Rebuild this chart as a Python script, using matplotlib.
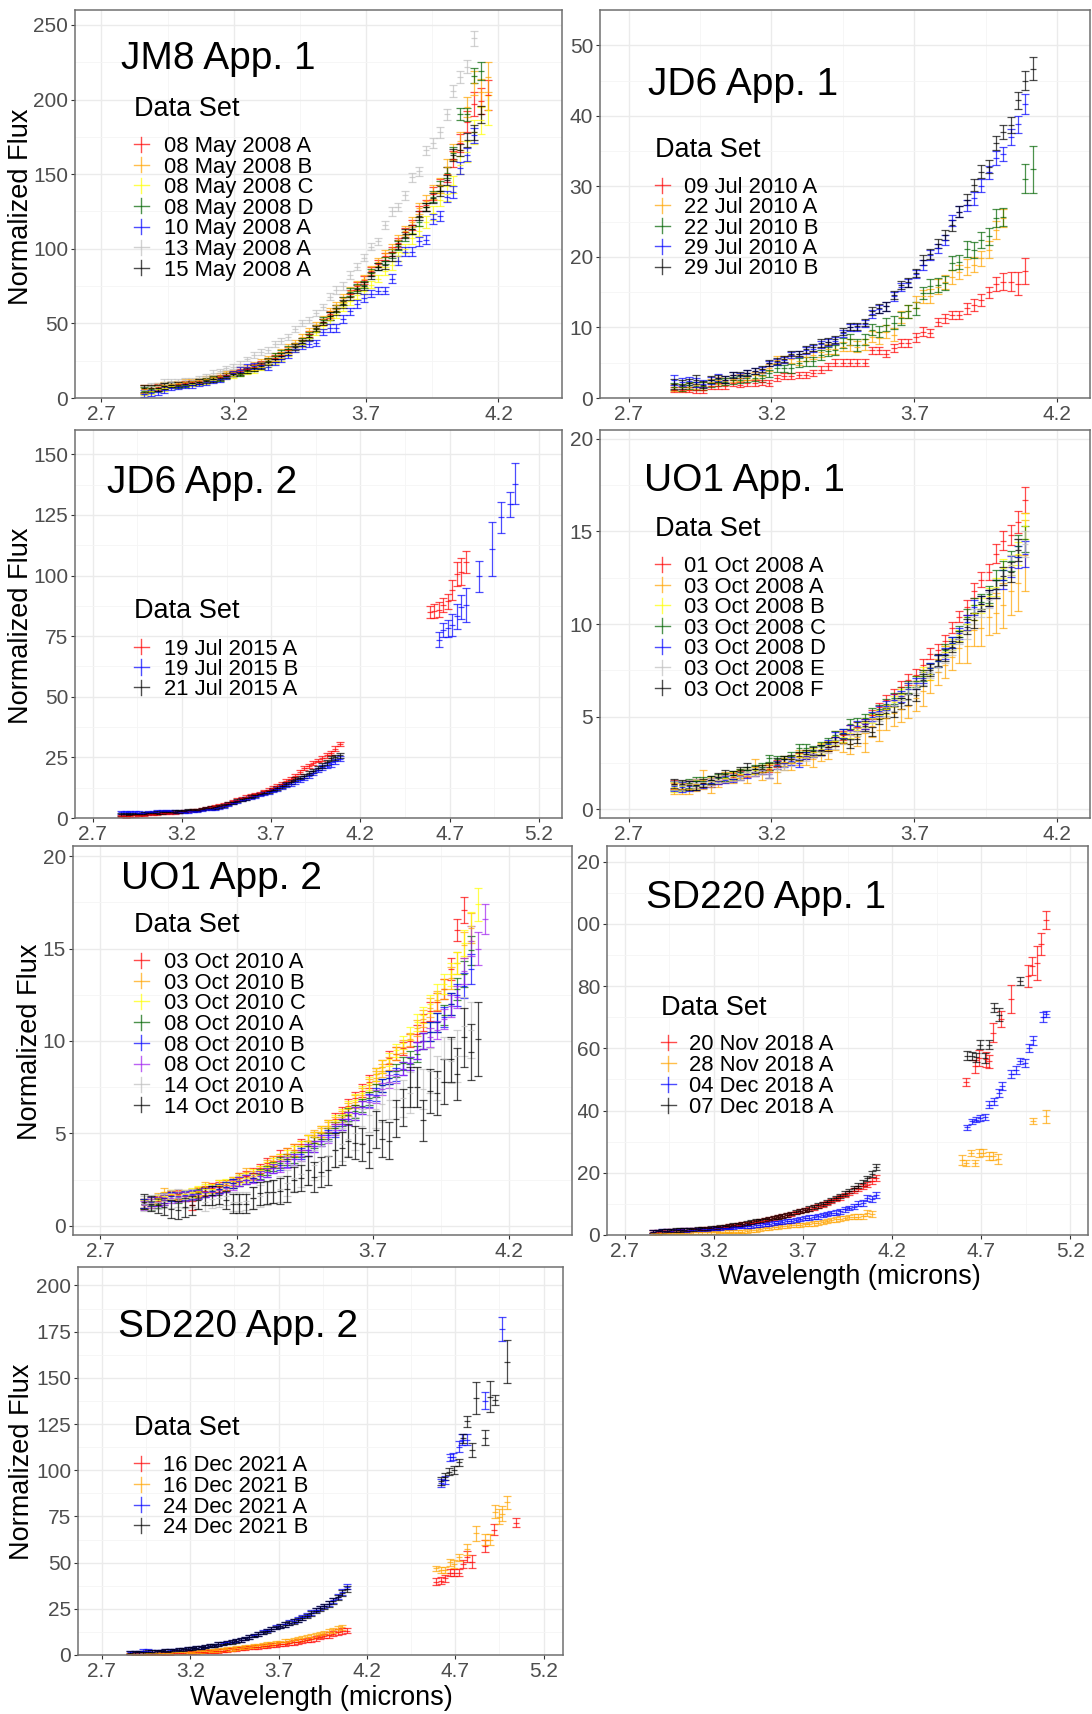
import numpy as np
import matplotlib.pyplot as plt
from matplotlib.patches import Rectangle

nan = np.nan
plt.rcParams['font.family'] = ['Liberation Sans', 'DejaVu Sans']

W, H = 1092, 1714  # output size in pixels

RED, ORANGE, YELLOW = '#FF0000', '#FFA500', '#FFFF00'
GREEN, BLUE, PURPLE = '#006400', '#0000FF', '#A020F0'
GREY, BLACK = '#BEBEBE', '#000000'

# channel wavelengths (microns) of the 2.9-4.1 micron spectra
GRID = [2.86, 2.885, 2.91, 2.935, 2.96, 2.985, 3.01, 3.035, 3.06, 3.085,
        3.11, 3.135, 3.16, 3.185, 3.21, 3.235, 3.26, 3.285, 3.31, 3.335,
        3.36, 3.385, 3.41, 3.435, 3.46, 3.485, 3.51, 3.535, 3.56, 3.585,
        3.61, 3.635, 3.66, 3.685, 3.71, 3.735, 3.76, 3.785, 3.81, 3.835,
        3.86, 3.885, 3.91, 3.935, 3.96, 3.985, 4.01, 4.035, 4.06, 4.085, 4.11]
# the 2008 JM8 spectra were binned a little coarser
JM8_GRID = [2.86, 2.886, 2.912, 2.938, 2.964, 2.99, 3.016, 3.042, 3.068, 3.094,
            3.12, 3.146, 3.172, 3.198, 3.224, 3.25, 3.276, 3.302, 3.328, 3.354,
            3.38, 3.406, 3.432, 3.458, 3.484, 3.51, 3.536, 3.562, 3.588, 3.614,
            3.64, 3.666, 3.692, 3.718, 3.744, 3.77, 3.796, 3.822, 3.848, 3.874,
            3.9, 3.926, 3.952, 3.978, 4.004, 4.03, 4.056, 4.082, 4.108, 4.134, 4.16]
# JD6 App. 1 and UO1 App. 1 channels
GRID_B = [2.86, 2.886, 2.911, 2.937, 2.962, 2.988, 3.014, 3.039, 3.065, 3.09,
          3.116, 3.142, 3.167, 3.193, 3.218, 3.244, 3.27, 3.295, 3.321, 3.346,
          3.372, 3.398, 3.423, 3.449, 3.474, 3.5, 3.526, 3.551, 3.577, 3.602,
          3.628, 3.654, 3.679, 3.705, 3.73, 3.756, 3.782, 3.807, 3.833, 3.858,
          3.884, 3.91, 3.935, 3.961, 3.986, 4.012, 4.038, 4.063, 4.089, 4.114]

# ---------------- JM8 App. 1 ----------------
JM8_LABELS = ['08 May 2008 A', '08 May 2008 B', '08 May 2008 C', '08 May 2008 D',
              '10 May 2008 A', '13 May 2008 A', '15 May 2008 A']
JM8_RED = [6, 6.5, 7.5, 8, 9, 9.5, 10, 10.5, 11.5, 12, 13, 14, 15.5, 16.5, 18, 19.5, 21, 23, 25, 27,
           29, 32, 35, 38, 43, 47, 51, 56, 60, 65, 70, 75, 79, 85, 90, 95, 98, 104, 111, 116,
           125, 129, 137, 142, 150, 160, 171, 185, 197, 199, 203]
JM8_ORANGE = [6, 7, 8, 9, 9.5, 10, 11, 11.5, 12, 13, 14, 15, 16.5, 17.5, 19, 20.5, 22, 24, 26, 28,
              31, 34, 37, 41, 45, 49, 53, 58, 62, 67, 72, 76, 80, 86, 91, 97, 100, 106, 112, 118,
              127, 132, 138, 143, 155, 165, 172, 195, 211, 205, 215]
JM8_YELLOW = [4.5, 5, 6, 7, 8, 8.5, 9, 9.5, 10.5, 11, 12, 13, 14, 15, 16, 17.5, 19, 21, 23, 25,
              27, 30, 33, 36, 40, 44, 48, 52, 56, 61, 65, 69, 72, 76, 80, 85, 89, 95, 100, 107,
              112, 118, 124, 133, 137, 143, 156, 165, 178, 186, 193]
JM8_GREEN = [5, 6, 7, 8, 9, 8, 9, 10, 11, 12, 13, 13, 15, 16, 16, 18, 20, 22, 25, 28,
             30, 33, 35, 38, 42, 47, 52, 55, 60, 65, 71, 74, 76, 84, 88, 92, 97, 102, 108, 113,
             118, 128, 135, 142, 151, 164, 190, 190, 216, 219]
JM8_BLUE = [3, 3.5, 4, 5.5, 7, 7.5, 8, 8.5, 9.5, 10.5, 11.5, 12.5, 14, 16.5, 19, 21, 21.5, 22, 21, 24,
            26, 29, 33, 35, 36, 37, 44, 47, 47, 53, 58, 63, 67, 70, 72, 72, 80, 92, 98, 98,
            105, 106, 120, 122, 135, 138, 154, 163, 176]
JM8_GREY = [5.5, 8, 8, 10.5, 11, 11.5, 12, 12, 13.5, 14.5, 17, 18, 20, 21, 23, 26, 29, 31, 32, 36,
            38, 41, 46, 50, 52, 57, 61, 68, 72.5, 75, 82.5, 88, 94, 101.5, 105, 116, 125, 128, 136, 148,
            152, 166, 171, 178, 190, 206, 215, 222, 241]
JM8_BLACK = [6.5, 7, 7, 8, 9, 9, 9.5, 10, 11, 11.5, 12.5, 13.5, 15, 16, 17, 18.5, 20, 21.5, 24, 26,
             28, 31, 34, 37, 41, 46, 51, 55, 58, 63, 68, 73, 75, 82, 88, 89, 95, 103, 110, 113,
             122, 128, 134, 139, 146, 163, 166, 173, 178, 190]
JM8_ERR = [2.5, 2, 2, 2, 1.5, 1.5, 1.5, 1.5, 1.5, 1.5, 1.5, 1.5, 1.5, 1.5, 1.5, 1.5, 2, 2, 2, 2,
           2, 2, 2, 2, 2, 2, 2, 2.5, 2.5, 2.5, 2.5, 2.5, 2.5, 2.5, 2.5, 2.5, 3, 3, 3, 3,
           3, 3, 3.5, 3.5, 3.5, 4, 4, 4.5, 5, 6]
JM8_ERR_BIG = [2.5, 2, 2, 2, 1.5, 1.5, 1.5, 1.5, 1.5, 1.5, 1.5, 1.5, 1.5, 1.5, 1.5, 1.5, 2, 2, 2, 2,
               2, 2, 2, 2, 2, 2, 2, 2.5, 2.5, 2.5, 2.5, 2.5, 2.5, 2.5, 2.5, 2.5, 3, 3, 3, 3.5,
               3.5, 4, 4.5, 4.5, 5, 5.5, 6, 7, 8, 9, 10]

# ---------------- JD6 App. 1 ----------------
JD6A_LABELS = ['09 Jul 2010 A', '22 Jul 2010 A', '22 Jul 2010 B', '29 Jul 2010 A', '29 Jul 2010 B']
JD6A_RED = [1.2, 1.2, 1.2, 1.1, 1.1, 1.7, 1.7, 1.7, 2.1, 1.9, 2.1, 2.1, 2.2, 2.1, 2.8, 3.1, 3.1, 3.3, 3.3, 3.5,
            4.0, 4.5, 5.0, 5.0, 5.0, 5.0, 5.0, 6.8, 6.8, 6.3, 7.1, 7.8, 7.8, 8.6, 9.4, 9.2, 10.8, 11.3, 11.8, 11.8,
            12.7, 13.2, 13.9, 15.0, 16.2, 16.5, 16.5, 16.2, 18.0]
JD6A_ORANGE = [1.5, 1.5, 1.6, 1.8, 1.7, 2.2, 2.5, 2.4, 2.7, 2.9, 3.0, 3.2, 3.6, 4.3, 5.4, 5.5, 5.5, 5.3, 5.8, 6.1,
               6.5, 6.9, 7.0, 7.3, 7.5, 7.3, 7.6, 8.7, 8.5, 9.4, 9.0, 11.5, 12.3, 13.6, 14.4, 14.4, 15.8, 16.5, 17.2, 17.9,
               18.6, 18.9, 19.8, 21.0, 23.8, 25.5]
JD6A_GREEN = [1.6, 1.5, 1.8, 1.7, 1.7, 2.1, 2.2, 2.3, 2.5, 2.6, 2.8, 2.9, 2.8, 3.5, 4.2, 4.2, 4.2, 5.0, 5.2, 5.2,
              6.1, 6.6, 6.8, 7.8, 8.3, 7.5, 8.3, 9.7, 9.4, 10.4, 10.7, 11.3, 12.3, 12.7, 14.9, 15.9, 16.0, 16.3, 19.1, 19.3,
              21.1, 21.0, 22.4, 22.9, 25.5, 25.7, nan, nan, 31.1, 32.4]
JD6A_BLUE = [2.5, 2.3, 2.4, 2.2, 2.0, 2.5, 2.9, 2.6, 3.3, 3.2, 3.5, 3.8, 4.0, 4.9, 5.1, 5.4, 6.1, 6.2, 6.8, 7.0,
             7.6, 7.9, 8.1, 9.2, 10.0, 10.0, 10.5, 11.9, 12.6, 13.0, 14.4, 15.7, 16.3, 17.6, 18.9, 20.3, 21.2, 22.4, 25.2, 26.4,
             27.3, 28.3, 30.1, 32.0, 34.0, 34.6, 37.0, 38.8, 41.7]
JD6A_BLACK = [2.0, 1.9, 2.1, 2.6, 1.9, 2.6, 2.8, 2.6, 3.3, 3.3, 3.5, 3.8, 4.1, 5.0, 5.2, 5.5, 6.3, 6.3, 6.9, 7.2,
              7.8, 8.0, 8.3, 9.4, 10.1, 10.2, 10.7, 12.3, 12.7, 13.0, 14.6, 16.0, 16.4, 17.7, 19.5, 20.4, 21.9, 23.1, 24.5, 26.4,
              28.1, 30.2, 32.1, 32.8, 36.1, 37.7, 38.7, 42.2, 45.0, 46.7]
JD6A_ERR = [0.7, 0.6, 0.6, 0.6, 0.5, 0.5, 0.5, 0.5, 0.4, 0.4, 0.4, 0.4, 0.4, 0.4, 0.4, 0.4, 0.4, 0.4, 0.5, 0.5,
            0.5, 0.5, 0.5, 0.5, 0.5, 0.5, 0.5, 0.6, 0.6, 0.6, 0.6, 0.6, 0.6, 0.6, 0.7, 0.7, 0.7, 0.7, 0.8, 0.8,
            0.8, 0.9, 0.9, 0.9, 1.0, 1.0, 1.1, 1.2, 1.4, 1.6]
JD6A_ERR_G = [0.5, 0.5, 0.5, 0.5, 0.5, 0.5, 0.5, 0.5, 0.5, 0.5, 0.5, 0.5, 0.5, 0.5, 0.5, 0.5, 0.6, 0.6, 0.6, 0.6,
              0.7, 0.7, 0.7, 0.7, 0.8, 0.8, 0.8, 0.8, 0.8, 0.9, 0.9, 0.9, 0.9, 0.9, 0.9, 1.0, 1.0, 1.0, 1.0, 1.0,
              1.1, 1.1, 1.1, 1.2, 1.3, 1.3, 1.5, 1.8, 2.1, 3.3]
JD6A_ERR_R = [0.4, 0.4, 0.4, 0.4, 0.4, 0.4, 0.4, 0.4, 0.4, 0.4, 0.4, 0.4, 0.4, 0.4, 0.4, 0.4, 0.4, 0.4, 0.4, 0.4,
              0.5, 0.5, 0.5, 0.5, 0.5, 0.5, 0.5, 0.5, 0.5, 0.5, 0.6, 0.6, 0.6, 0.6, 0.6, 0.6, 0.6, 0.6, 0.6, 0.6,
              0.8, 0.8, 0.8, 0.8, 1.0, 1.2, 1.3, 1.6, 1.8]

# ---------------- JD6 App. 2 ----------------
JD6B_LABELS = ['19 Jul 2015 A', '19 Jul 2015 B', '21 Jul 2015 A']
JD6B_RED = [0.8, 0.7, 0.9, 1.1, 1.3, 1.4, 1.6, 1.8, 1.9, 2.0, 2.1, 2.1, 2.3, 2.5, 2.8, 3.0, 3.2, 3.4, 3.8, 4.1,
            4.4, 4.8, 5.1, 5.5, 6.2, 6.9, 7.5, 8.2, 8.7, 9.2, 9.8, 10.3, 11.0, 11.7, 12.5, 13.3, 14.2, 15.1, 16.2, 17.4,
            19.0, 20.6, 21.6, 22.7, 23.7, 24.7, 25.8, 26.8, 28.5, 30.5]
JD6B_BLUE = [2.3, 2.3, 2.3, 2.3, 2.2, 2.1, 2.3, 2.5, 2.6, 2.7, 2.7, 2.7, 2.6, 2.5, 2.6, 2.7, 2.9, 3.0, 3.3, 3.7,
             3.9, 4.1, 4.4, 4.8, 5.5, 6.2, 6.9, 7.6, 8.0, 8.5, 9.0, 9.6, 10.1, 10.6, 11.2, 11.9, 12.7, 13.6, 14.1, 14.7,
             15.6, 16.5, 17.5, 18.5, 19.8, 21.0, 21.6, 22.2, 23.4, 24.5]
JD6B_BLACK = [1.5, 1.5, 1.6, 1.6, 1.7, 1.8, 2.0, 2.1, 2.2, 2.3, 2.4, 2.5, 2.6, 2.7, 3.0, 3.2, 3.3, 3.4, 3.8, 4.1,
              4.3, 4.5, 4.9, 5.2, 5.8, 6.5, 7.1, 7.8, 8.2, 8.7, 9.3, 9.9, 10.4, 11.0, 11.7, 12.4, 13.2, 14.0, 15.0, 16.0,
              16.7, 17.4, 18.5, 19.5, 20.5, 21.6, 23.0, 24.7, 25.0, 25.8]
JD6B_ERR = [0.5, 0.5, 0.5, 0.5, 0.5, 0.5, 0.5, 0.5, 0.5, 0.5, 0.5, 0.5, 0.5, 0.5, 0.5, 0.5, 0.5, 0.5, 0.5, 0.5,
            0.6, 0.6, 0.6, 0.6, 0.6, 0.6, 0.6, 0.6, 0.6, 0.6, 0.6, 0.6, 0.6, 0.6, 0.6, 0.8, 0.8, 0.8, 0.8, 0.8,
            0.8, 0.8, 0.8, 0.8, 0.8, 1.0, 1.0, 1.0, 1.0, 1.0]
# 4.6-5.1 micron points
JD6B_RED_MX = [4.59, 4.615, 4.64, 4.665, 4.69, 4.715, 4.74, 4.765, 4.79]
JD6B_RED_M = [84.9, 85.4, 85.9, 87.9, 89.3, 94.1, 100.7, 101.6, 105.4]
JD6B_RED_ME = [2.5, 3, 3, 3, 3, 4, 5, 5.5, 4.5]
JD6B_BLUE_MX = [4.64, 4.665, 4.69, 4.715, 4.74, 4.765, 4.79, 4.865, 4.94, 4.99, 5.04, 5.065]
JD6B_BLUE_M = [73.5, 77.6, 78.3, 79.7, 83.1, 86.9, 87.9, 99.6, 111.0, 124.0, 129.3, 137.8]
JD6B_BLUE_ME = [3, 3, 3.5, 4.5, 5, 5, 7, 6.5, 11, 6.3, 5, 8.5]

# ---------------- UO1 App. 1 ----------------
UO1A_LABELS = ['01 Oct 2008 A', '03 Oct 2008 A', '03 Oct 2008 B', '03 Oct 2008 C',
               '03 Oct 2008 D', '03 Oct 2008 E', '03 Oct 2008 F']
UO1A_RED = [1.35, 1.3, 1.35, 1.39, 1.42, 1.5, 1.57, 1.66, 1.75, 1.87, 1.93, 2.0, 2.1, 2.2, 2.47, 2.56, 2.7, 2.83, 2.9, 3.0,
            3.2, 3.37, 3.65, 4.0, 4.3, 4.45, 4.6, 5.1, 5.5, 5.9, 6.2, 6.6, 7.0, 7.25, 7.8, 8.4, 8.6, 9.1, 9.8, 10.4,
            10.9, 11.8, 12.4, 12.8, 13.8, 14.5, 14.8, 15.5, 16.7]
UO1A_ORANGE = [1.1, 1.1, 1.1, 1.3, 1.6, 1.2, 1.5, 1.7, 1.7, 1.9, 1.8, 2.3, 2.0, 2.1, 2.0, 2.5, 2.5, 2.8, 2.8, 2.7,
               3.1, 3.2, 3.7, 3.6, 3.5, 3.9, 3.6, 4.5, 4.3, 4.9, 5.2, 5.4, 5.6, 6.0, 6.4, 7.0, 7.4, 7.8, 8.2, 8.7,
               8.8, 9.7, 9.8, 10.4, 10.6, 11.0, 11.8, 12.2, 13.7]
UO1A_YELLOW = [1.2, 1.25, 1.3, 1.35, 1.45, 1.55, 1.6, 1.7, 1.8, 1.9, 2.0, 2.1, 2.2, 2.25, 2.4, 2.55, 2.7, 2.8, 2.95, 3.1,
               3.25, 3.45, 3.7, 3.9, 4.1, 4.3, 4.7, 4.9, 5.1, 5.4, 5.8, 6.2, 6.5, 6.9, 7.4, 7.3, 8.0, 8.5, 8.9, 9.4,
               10.0, 10.6, 11.0, 11.5, 12.0, 13.0, 13.2, 13.8, 15.3]
UO1A_GREEN = [1.3, 1.3, 1.4, 1.5, 1.55, 1.6, 1.7, 1.75, 1.85, 2.0, 2.1, 2.2, 2.3, 2.75, 2.7, 2.7, 2.9, 3.3, 3.3, 3.2,
              3.4, 3.6, 4.0, 4.1, 4.6, 4.7, 4.9, 5.2, 5.4, 5.7, 6.0, 6.3, 6.6, 6.9, 7.2, 7.6, 8.0, 8.6, 9.0, 9.6,
              10.4, 11.0, 11.2, 11.6, 12.4, 12.9, 13.4, 14.2, 14.6]
UO1A_BLUE = [1.25, 1.2, 1.25, 1.3, 1.35, 1.4, 1.55, 1.6, 1.65, 1.8, 1.9, 2.0, 2.1, 1.9, 2.4, 2.5, 2.6, 2.5, 2.9, 3.0,
             3.2, 3.5, 3.9, 4.1, 4.3, 4.5, 4.6, 5.0, 5.3, 5.6, 5.9, 6.1, 6.5, 6.8, 7.1, 7.6, 8.0, 8.4, 9.0, 9.5,
             10.1, 10.9, 11.1, 11.4, 11.9, 12.4, 13.1, 13.6, 13.8]
UO1A_GREY = [1.3, 1.3, 1.35, 1.4, 1.45, 1.5, 1.6, 1.65, 1.7, 1.8, 2.0, 2.0, 2.1, 1.9, 2.2, 2.3, 2.55, 2.7, 2.8, 3.0,
             3.1, 3.3, 3.5, 3.8, 4.0, 4.2, 4.4, 4.7, 5.0, 5.3, 5.6, 5.9, 6.2, 6.6, 7.0, 7.4, 7.7, 8.2, 8.6, 9.2,
             9.6, 10.4, 10.8, 11.3, 11.9, 12.6, 13.2, 14.0, 14.3]
UO1A_BLACK = [1.39, 1.35, 1.3, 1.3, 1.42, 1.57, 1.75, 1.9, 1.84, 2.1, 2.3, 2.15, 2.2, 2.3, 2.56, 2.7, 2.74, 2.88, 3.0, 3.14,
              3.2, 3.37, 3.64, 3.82, 3.55, 3.82, 4.5, 4.18, 4.87, 5.18, 5.27, 5.72, 5.93, 6.17, 6.98, 7.52, 8.06, 8.33, 8.78, 9.32,
              9.86, 10.2, 11.1, 11.4, 11.9, 12.6, 12.8, 14.0]
UO1A_ERR = [0.25, 0.25, 0.25, 0.25, 0.2, 0.2, 0.2, 0.2, 0.2, 0.2, 0.2, 0.2, 0.2, 0.2, 0.2, 0.2, 0.2, 0.2, 0.2, 0.2,
            0.25, 0.25, 0.25, 0.25, 0.25, 0.25, 0.25, 0.25, 0.25, 0.25, 0.3, 0.3, 0.3, 0.3, 0.3, 0.3, 0.3, 0.3, 0.3, 0.3,
            0.4, 0.4, 0.4, 0.45, 0.5, 0.5, 0.55, 0.6, 0.7]
UO1A_ERR_O = [0.3, 0.3, 0.3, 0.3, 0.5, 0.3, 0.3, 0.3, 0.3, 0.3, 0.4, 0.4, 0.4, 0.4, 0.6, 0.4, 0.4, 0.4, 0.4, 0.4,
              0.5, 0.5, 0.5, 0.5, 0.5, 0.5, 0.5, 0.6, 0.6, 0.6, 0.7, 0.7, 0.7, 0.7, 0.8, 0.7, 0.7, 0.7, 0.7, 0.8,
              0.9, 0.9, 1.0, 1.0, 1.1, 1.2, 1.3, 1.5, 1.9]

# ---------------- UO1 App. 2 ----------------
UO1B_LABELS = ['03 Oct 2010 A', '03 Oct 2010 B', '03 Oct 2010 C', '08 Oct 2010 A',
               '08 Oct 2010 B', '08 Oct 2010 C', '14 Oct 2010 A', '14 Oct 2010 B']
UO1B_RED = [1.2, 1.3, 1.35, 1.5, 1.65, 1.7, 1.6, 1.1, 1.8, 1.9, 2.05, 2.1, 2.2, 2.4, 2.6, 2.7, 2.85, 3.1, 3.4, 3.5,
            3.8, 3.9, 4.1, 4.4, 4.6, 4.8, 5.1, 5.4, 5.8, 6.1, 6.5, 6.9, 7.3, 7.8, 8.2, 8.6, 9.1, 9.3, 9.6, 10.0,
            10.4, 11.0, 11.6, 12.1, 12.8, 13.9, 16.0, 17.1]
UO1B_ORANGE = [1.2, 1.3, 1.5, 1.8, 1.7, 1.65, 1.7, 1.75, 1.85, 2.1, 2.0, 2.2, 2.2, 2.3, 2.6, 2.9, 2.7, 3.0, 3.3, 3.5,
               3.6, 3.9, 4.1, 4.3, 4.6, 4.9, 5.0, 5.3, 5.6, 5.9, 6.3, 6.7, 7.1, 7.6, 8.0, 8.4, 8.8, 9.3, 9.7, 10.1,
               10.7, 11.2, 11.8, 12.2, 12.8, 13.4, 14.2, 15.2, 16.1]
UO1B_YELLOW = [1.15, 1.2, 1.4, 1.6, 1.7, 1.6, 1.7, 1.8, 1.9, 2.0, 2.0, 2.2, 2.3, 2.4, 2.5, 2.6, 2.8, 3.0, 3.2, 3.4,
               3.6, 3.8, 4.0, 4.3, 4.6, 4.8, 5.1, 5.4, 5.7, 6.0, 6.4, 6.8, 7.2, 7.7, 8.2, 8.6, 9.0, 9.5, 9.9, 10.4,
               11.0, 11.4, 12.0, 12.6, 13.1, 13.6, 14.2, 15.3, 16.2, 17.4]
UO1B_GREEN = [1.2, 1.1, 1.2, 1.4, 1.6, 1.5, 1.6, 1.65, 1.75, 1.8, 1.9, 2.0, 2.1, 2.3, 2.4, 2.5, 2.6, 2.8, 3.0, 3.2,
              3.4, 3.6, 3.7, 4.0, 4.3, 4.5, 4.7, 5.0, 5.3, 5.7, 6.0, 6.2, 6.5, 6.9, 7.3, 7.6, 8.0, 8.4, 8.8, 9.1,
              9.3, 10.0, 10.5, 11.0, 11.4, 12.0, 12.8, 13.6, 14.9]
UO1B_BLUE = [1.2, 1.3, 1.3, 1.5, 1.6, 1.6, 1.65, 1.7, 1.7, 1.8, 1.9, 2.0, 2.1, 2.3, 2.4, 2.5, 2.6, 2.7, 2.9, 3.1,
             3.3, 3.5, 3.6, 3.9, 4.1, 4.3, 4.6, 4.9, 5.1, 5.5, 5.8, 6.1, 6.4, 6.8, 7.1, 7.6, 8.0, 8.2, 8.5, 8.8,
             9.5, 10.0, 10.5, 11.0, 11.3, 12.0, 12.5, 13.0, 13.9]
UO1B_PURPLE = [1.1, 1.2, 1.3, 1.4, 1.5, 1.55, 1.6, 1.65, 1.7, 1.8, 1.85, 1.95, 2.05, 2.2, 2.4, 2.5, 2.55, 2.7, 2.9, 3.1,
               3.2, 3.4, 3.6, 3.8, 4.1, 4.3, 4.6, 4.8, 5.2, 5.5, 5.8, 6.1, 6.4, 6.7, 7.0, 7.4, 7.8, 8.1, 8.5, 8.8,
               9.5, 10.0, 10.2, 10.6, 11.2, 11.9, 12.4, 13.8, 15.4, 15.0, 16.6]
UO1B_GREY = [1.2, 1.25, 1.3, 1.35, 1.45, 1.5, 1.45, 1.5, 1.4, 1.3, 1.45, 1.5, 1.6, 1.3, 1.3, 1.35, 1.5, 1.6, 1.75, 1.85,
             2.0, 2.3, 2.6, 2.8, 3.0, 3.3, 3.5, 3.8, 4.1, 4.4, 4.7, 5.0, 5.4, 6.0, 6.3, 6.6, 6.8, 7.4, 6.9, 7.2,
             7.5, 7.4, 8.4, 8.0, 9.0, 8.9, 9.2, 10.8, 10.6]
UO1B_BLACK = [1.3, 1.2, 1.1, 1.0, 0.9, 0.85, 1.0, 1.1, 1.4, 1.6, 1.65, 1.66, 1.4, 1.2, 1.2, 1.2, 1.5, 1.75, 1.8, 1.85,
              1.9, 2.0, 2.5, 2.6, 3.0, 2.65, 2.9, 3.0, 4.1, 4.2, 4.6, 4.5, 4.4, 4.0, 5.2, 4.7, 4.6, 5.8, 6.4, 7.5,
              7.5, 5.7, 7.3, 7.2, 7.8, 9.0, 8.2, 10.2, 9.4, 10.1]
UO1B_ERR = [0.25, 0.25, 0.25, 0.25, 0.25, 0.25, 0.25, 0.25, 0.25, 0.25, 0.25, 0.25, 0.25, 0.25, 0.25, 0.25, 0.25, 0.25, 0.25, 0.25,
            0.3, 0.3, 0.3, 0.3, 0.3, 0.3, 0.3, 0.3, 0.3, 0.3, 0.35, 0.35, 0.35, 0.35, 0.35, 0.35, 0.35, 0.35, 0.35, 0.35,
            0.45, 0.45, 0.5, 0.5, 0.55, 0.6, 0.6, 0.7, 0.8, 0.9, 0.8]
UO1B_ERR_K = [0.4, 0.4, 0.4, 0.4, 0.5, 0.5, 0.5, 0.5, 0.5, 0.5, 0.5, 0.5, 0.5, 0.5, 0.5, 0.5, 0.6, 0.6, 0.6, 0.6,
              0.7, 0.7, 0.7, 0.7, 0.8, 0.8, 0.8, 0.8, 0.9, 0.9, 0.9, 0.9, 0.9, 0.9, 1.0, 1.0, 1.0, 1.0, 1.0, 1.1,
              1.1, 1.1, 1.2, 1.2, 1.2, 1.2, 1.4, 1.6, 1.5, 2.0]

# ---------------- SD220 App. 1 ----------------
SD1_LABELS = ['20 Nov 2018 A', '28 Nov 2018 A', '04 Dec 2018 A', '07 Dec 2018 A']
SD1_RED = [1.0, 1.1, 1.2, 1.3, 1.4, 1.5, 1.5, 1.6, 1.7, 1.8, 1.9, 2.0, 2.1, 2.2, 2.4, 2.5, 2.7, 2.9, 3.1, 3.3,
           3.5, 3.7, 4.0, 4.3, 4.6, 4.9, 5.2, 5.5, 5.8, 6.1, 6.4, 6.8, 7.2, 7.6, 8.0, 8.4, 8.8, 9.3, 9.8, 10.3,
           10.9, 11.5, 12.1, 12.8, 13.5, 14.2, 14.8, 15.6, 16.2, 17.3, 18.2]
SD1_ORANGE = [0.6, 0.6, 0.7, 0.7, 0.7, 0.8, 0.8, 0.8, 0.8, 0.9, 0.9, 0.9, 0.9, 0.9, 0.9, 1.0, 1.0, 1.0, 1.1, 1.0,
              1.1, 1.2, 1.5, 1.7, 1.9, 2.1, 2.3, 2.5, 2.6, 2.8, 3.0, 3.1, 3.2, 3.3, 3.4, 3.6, 3.7, 3.9, 4.2, 4.5,
              4.8, 5.0, 5.3, 5.5, 5.7, 5.9, 5.8, 6.0, 7.0, 6.7]
SD1_BLUE = [1.1, 1.2, 1.3, 1.4, 1.4, 1.5, 1.5, 1.6, 1.6, 1.7, 1.8, 1.8, 1.9, 2.0, 2.1, 2.2, 2.3, 2.4, 2.5, 2.6,
            2.7, 2.8, 3.0, 3.1, 3.2, 3.4, 3.6, 3.8, 4.0, 4.2, 4.4, 4.6, 4.8, 5.1, 5.4, 5.6, 5.8, 6.0, 6.4, 6.8,
            7.0, 7.2, 7.6, 8.2, 8.6, 9.1, 10.0, 10.2, 11.8, 11.5, 12.9]
SD1_BLACK = [1.0, 1.2, 1.3, 1.4, 1.5, 1.6, 1.6, 1.7, 1.8, 1.9, 2.0, 2.1, 2.2, 2.3, 2.5, 2.6, 2.8, 3.0, 3.2, 3.4,
             3.6, 3.8, 4.1, 4.4, 4.7, 5.0, 5.3, 5.6, 5.9, 6.2, 6.5, 6.9, 7.3, 7.7, 8.1, 8.5, 9.0, 9.5, 10.0, 10.6,
             11.2, 11.9, 12.6, 13.3, 14.1, 15.0, 15.9, 16.8, 18.2, 19.5, 21.8]
SD1_ERR = [0.5, 0.5, 0.5, 0.5, 0.5, 0.5, 0.5, 0.5, 0.5, 0.5, 0.5, 0.5, 0.5, 0.5, 0.5, 0.5, 0.5, 0.5, 0.5, 0.5,
           0.6, 0.6, 0.6, 0.6, 0.6, 0.6, 0.6, 0.6, 0.6, 0.6, 0.6, 0.6, 0.6, 0.6, 0.6, 0.7, 0.7, 0.7, 0.7, 0.7,
           0.7, 0.7, 0.7, 0.7, 0.7, 0.8, 0.8, 0.9, 0.9, 1.0, 1.0]
SD1_RED_MX = [4.613, 4.666, 4.689, 4.73, 4.742, 4.764, 4.812, 4.865, 4.963, 4.988, 5.012, 5.035, 5.064]
SD1_RED_M = [49.1, 54.2, 56.9, 56.4, 55.8, 65.0, 69.4, 75.7, 83.2, 86.4, 87.5, 93.4, 101.2]
SD1_RED_ME = [1.3, 2.0, 2.5, 2.5, 2.0, 3.0, 2.5, 4.5, 3.5, 3.0, 5.5, 3.5, 2.8]
SD1_ORANGE_MX = [4.594, 4.613, 4.642, 4.666, 4.689, 4.713, 4.742, 4.764, 4.793, 4.992, 5.067]
SD1_ORANGE_M = [24.1, 23.1, 26.3, 23.1, 26.3, 26.5, 25.4, 25.4, 24.4, 36.7, 38.1]
SD1_ORANGE_ME = [1.5, 1.0, 1.0, 1.0, 1.2, 1.2, 1.3, 1.3, 1.5, 1.0, 2.0]
SD1_BLUE_MX = [4.622, 4.647, 4.67, 4.694, 4.72, 4.745, 4.77, 4.798, 4.82, 4.869, 4.897, 4.92, 4.944,
               4.97, 4.992, 5.045, 5.067]
SD1_BLUE_M = [34.7, 36.5, 37.0, 37.6, 37.9, 41.9, 42.9, 45.6, 47.8, 51.8, 53.1, 55.8, 55.3, 60.1, 62.6, 70.1, 71.1]
SD1_BLUE_ME = [0.8, 0.8, 0.8, 0.9, 1.0, 1.0, 1.0, 1.2, 1.3, 1.2, 1.3, 1.0, 1.2, 1.3, 1.4, 1.5, 1.0]
SD1_BLACK_MX = [4.622, 4.647, 4.67, 4.694, 4.72, 4.745, 4.77, 4.798, 4.92]
SD1_BLACK_M = [57.6, 57.6, 57.1, 61.2, 56.9, 61.2, 73.0, 70.8, 81.6]
SD1_BLACK_ME = [1.5, 1.3, 1.5, 1.5, 1.5, 1.5, 1.5, 2.0, 1.3]

# ---------------- SD220 App. 2 ----------------
SD2_LABELS = ['16 Dec 2021 A', '16 Dec 2021 B', '24 Dec 2021 A', '24 Dec 2021 B']
SD2_RED = [0.4, 0.5, 0.6, 0.6, 0.7, 0.8, 0.8, 0.9, 1.0, 1.0, 1.1, 1.2, 1.3, 1.4, 1.5, 1.6, 1.7, 1.8, 2.0, 2.1,
           2.2, 2.4, 2.7, 3.0, 3.3, 3.6, 3.9, 4.1, 4.3, 4.5, 4.7, 5.0, 5.3, 5.6, 5.8, 6.1, 6.4, 6.8, 7.2, 7.6,
           8.0, 8.5, 9.0, 9.6, 10.2, 10.8, 11.6, 12.4, 13.0, 13.2]
SD2_ORANGE = [0.5, 0.6, 0.7, 0.8, 0.9, 1.0, 1.0, 1.1, 1.2, 1.3, 1.4, 1.5, 1.6, 1.7, 1.8, 1.9, 2.0, 2.2, 2.4, 2.6,
              2.8, 3.0, 3.2, 3.4, 3.7, 4.0, 4.3, 4.6, 4.9, 5.2, 5.5, 5.8, 6.1, 6.4, 6.8, 7.2, 7.6, 8.0, 8.5, 9.0,
              9.5, 10.0, 10.6, 11.2, 11.8, 12.5, 13.3, 14.2, 15.0]
SD2_BLUE = [1.5, 1.6, 1.6, 2.2, 2.4, 1.8, 1.9, 2.1, 2.3, 2.5, 2.7, 2.9, 3.2, 3.5, 3.7, 3.9, 4.2, 4.5, 4.9, 5.4,
            5.9, 6.3, 6.8, 7.3, 7.8, 8.3, 9.0, 9.8, 10.6, 11.4, 12.3, 13.3, 14.2, 15.0, 15.8, 16.6, 17.5, 18.4, 19.3, 20.4,
            21.6, 23.0, 24.4, 25.5, 26.5, 27.8, 29.5, 31.6, 34.0, 37.0]
SD2_BLACK = [1.2, 1.4, 1.5, 1.6, 1.7, 1.8, 1.9, 2.0, 2.2, 2.4, 2.6, 2.8, 3.1, 3.4, 3.6, 3.9, 4.2, 4.5, 4.9, 5.3,
             5.8, 6.2, 6.7, 7.2, 7.7, 8.3, 9.0, 9.7, 10.5, 11.3, 12.2, 13.1, 14.0, 14.9, 15.6, 16.4, 17.2, 18.1, 19.0, 20.0,
             21.2, 22.5, 24.0, 25.2, 26.3, 27.5, 29.2, 31.2, 33.5, 35.6]
SD2_ERR = [0.8, 0.8, 0.8, 0.8, 0.8, 0.8, 0.8, 0.8, 0.8, 0.8, 0.8, 0.8, 0.8, 0.8, 0.8, 0.8, 0.8, 0.8, 0.8, 0.8,
           1.0, 1.0, 1.0, 1.0, 1.0, 1.0, 1.0, 1.0, 1.0, 1.0, 1.0, 1.0, 1.0, 1.0, 1.0, 1.2, 1.2, 1.2, 1.2, 1.2,
           1.2, 1.2, 1.2, 1.2, 1.2, 1.5, 1.5, 1.5, 1.5, 1.5]
SD2_RED_MX = [4.592, 4.617, 4.64, 4.668, 4.692, 4.719, 4.743, 4.766, 4.794, 4.87, 4.917, 5.042]
SD2_RED_M = [39.7, 40.3, 41.5, 44.6, 44.6, 44.6, 49.3, 53.2, 50.5, 59.0, 67.7, 71.7]
SD2_RED_ME = [2.0, 2.0, 2.0, 2.0, 2.0, 2.0, 2.0, 3.0, 3.5, 3.0, 3.0, 2.5]
SD2_ORANGE_MX = [4.592, 4.617, 4.64, 4.668, 4.692, 4.719, 4.766, 4.819, 4.87, 4.895, 4.923, 4.946, 4.967, 4.993]
SD2_ORANGE_M = [46.9, 46.0, 46.0, 50.2, 49.3, 52.9, 57.2, 65.9, 62.3, 62.3, 77.6, 74.9, 76.4, 82.7]
SD2_ORANGE_ME = [1.5, 1.5, 1.5, 2.0, 2.0, 2.0, 3.0, 4.0, 3.0, 3.0, 3.5, 4.0, 4.0, 3.5]
SD2_BLUE_MX = [4.617, 4.64, 4.668, 4.687, 4.719, 4.74, 4.766, 4.87, 4.967]
SD2_BLUE_M = [93.0, 94.8, 107.0, 107.4, 112.8, 116.4, 116.4, 137.7, 176.5]
SD2_BLUE_ME = [2.0, 2.0, 2.0, 2.0, 3.0, 3.0, 3.0, 4.5, 6.5]
SD2_BLACK_MX = [4.617, 4.64, 4.664, 4.692, 4.719, 4.743, 4.766, 4.794, 4.819, 4.87, 4.895, 4.923, 4.993]
SD2_BLACK_M = [94.2, 96.6, 99.3, 100.2, 104.3, 117.3, 126.4, 111.0, 139.0, 117.7, 139.9, 138.0, 158.8]
SD2_BLACK_ME = [2.0, 2.0, 2.0, 2.0, 2.0, 2.5, 3.0, 4.0, 8.5, 4.0, 8.5, 2.5, 11.5]

XT_SHORT = [2.7, 3.2, 3.7, 4.2]
XT_LONG = [2.7, 3.2, 3.7, 4.2, 4.7, 5.2]

fig = plt.figure(figsize=(W / 100, H / 100), dpi=100, facecolor='white')


def fx(px):
    return px / W


def fy(py):
    return 1 - py / H


def tile(x0, y0, x1, y1, z):
    # each panel was pasted as an opaque picture over the previous ones
    fig.add_artist(Rectangle((fx(x0), fy(y1)), (x1 - x0) / W, (y1 - y0) / H,
                             transform=fig.transFigure, facecolor='white',
                             edgecolor='none', zorder=z))


def panel(box, z, xlim, ylim, xticks, yticks):
    L, T, R, B = box
    ax = fig.add_axes([fx(L), fy(B), (R - L) / W, (B - T) / H])
    ax.set_zorder(z)
    ax.set_xticks(xticks)
    ax.set_xticklabels([f'{t:.1f}' for t in xticks])
    ax.set_yticks(yticks)
    ax.set_yticklabels([str(t) for t in yticks])
    dy = yticks[1] - yticks[0]
    ax.set_xticks([xticks[0] - 0.25] + [t + 0.25 for t in xticks], minor=True)
    ax.set_yticks([t + dy / 2 for t in yticks], minor=True)
    ax.tick_params(which='minor', length=0)
    ax.tick_params(which='major', direction='out', length=3, width=0.8, color='#333333',
                   labelsize=15, labelcolor='#4D4D4D', pad=2)
    ax.grid(which='major', color='#EBEBEB', lw=1.0)
    ax.grid(which='minor', color='#F5F5F5', lw=0.6)
    ax.set_axisbelow(True)
    for s in ax.spines.values():
        s.set_color('#707070')
        s.set_linewidth(1.1)
    ax.set_xlim(*xlim)
    ax.set_ylim(*ylim)
    return ax


def bars(ax, x, y, e, c):
    n = len(y)
    x = np.asarray(x[:n], float)
    y = np.asarray(y, float)
    e = np.asarray(e[:n], float)
    ok = ~np.isnan(y)
    ax.errorbar(x[ok], y[ok], yerr=e[ok], fmt='_', ms=5, mew=0.9, color=c, ecolor=c,
                elinewidth=0.9, capsize=2.6, capthick=0.9, alpha=0.7)


def title(ax, text, x, y):
    ax.text(fx(x), fy(y), text, fontsize=28, ha='left', va='baseline', transform=fig.transFigure)


def legend(ax, tx, ty, kx, lx, y0, step, labels, colors):
    ax.text(fx(tx), fy(ty), 'Data Set', fontsize=19.5, ha='left', va='baseline', transform=fig.transFigure)
    for i, (lab, c) in enumerate(zip(labels, colors)):
        cy = y0 + i * step
        ax.plot([fx(kx - 7.5), fx(kx + 7.5)], [fy(cy), fy(cy)], color=c, alpha=0.7, lw=1,
                transform=fig.transFigure, clip_on=False)
        ax.plot([fx(kx), fx(kx)], [fy(cy - 7.5), fy(cy + 7.5)], color=c, alpha=0.7, lw=1,
                transform=fig.transFigure, clip_on=False)
        ax.text(fx(lx), fy(cy + 7.9), lab, fontsize=15.8, ha='left', va='baseline',
                transform=fig.transFigure)


def ylab(ax, x, y):
    ax.text(fx(x), fy(y), 'Normalized Flux', fontsize=19.5, rotation=90, ha='center', va='center',
            transform=fig.transFigure)


def xlab(ax, x, y):
    ax.text(fx(x), fy(y), 'Wavelength (microns)', fontsize=19.5, ha='center', va='baseline',
            transform=fig.transFigure)


# --- row 1 ---
ax = panel((75, 10, 562, 398), 1.1, (2.6, 4.44), (0, 260), XT_SHORT, [0, 50, 100, 150, 200, 250])
cols = [RED, ORANGE, YELLOW, GREEN, BLUE, GREY, BLACK]
for y, e, c in zip([JM8_RED, JM8_ORANGE, JM8_YELLOW, JM8_GREEN, JM8_BLUE, JM8_GREY, JM8_BLACK],
                   [JM8_ERR_BIG, JM8_ERR_BIG, JM8_ERR_BIG, JM8_ERR, JM8_ERR, JM8_ERR, JM8_ERR], cols):
    bars(ax, JM8_GRID, y, e, c)
title(ax, 'JM8 App. 1', 121, 69)
legend(ax, 134, 116, 141, 164, 144.3, 20.56, JM8_LABELS, cols)
ylab(ax, 21, 207)

ax = panel((600, 10, 1090, 398), 1.1, (2.6, 4.315), (0, 55), XT_SHORT, [0, 10, 20, 30, 40, 50])
cols = [RED, ORANGE, GREEN, BLUE, BLACK]
for y, e, c in zip([JD6A_RED, JD6A_ORANGE, JD6A_GREEN, JD6A_BLUE, JD6A_BLACK],
                   [JD6A_ERR_R, JD6A_ERR_G, JD6A_ERR_G, JD6A_ERR, JD6A_ERR], cols):
    bars(ax, GRID_B, y, e, c)
title(ax, 'JD6 App. 1', 648, 95)
legend(ax, 655, 157, 662, 684, 185, 20.4, JD6A_LABELS, cols)

# --- row 2 ---
tile(0, 420, 566, 840, 2)
tile(566, 420, W, 840, 2)
ax = panel((75, 430, 562, 818), 2.1, (2.6, 5.33), (0, 160), XT_LONG, [0, 25, 50, 75, 100, 125, 150])
cols = [RED, BLUE, BLACK]
for y, c in zip([JD6B_RED, JD6B_BLUE, JD6B_BLACK], cols):
    bars(ax, GRID, y, JD6B_ERR, c)
bars(ax, JD6B_RED_MX, JD6B_RED_M, JD6B_RED_ME, RED)
bars(ax, JD6B_BLUE_MX, JD6B_BLUE_M, JD6B_BLUE_ME, BLUE)
title(ax, 'JD6 App. 2', 107, 493)
legend(ax, 134, 618, 141, 164, 646.7, 20.3, JD6B_LABELS, cols)
ylab(ax, 21, 626)

ax = panel((600, 430, 1090, 818), 2.1, (2.6, 4.315), (-0.47, 20.47), XT_SHORT, [0, 5, 10, 15, 20])
cols = [RED, ORANGE, YELLOW, GREEN, BLUE, GREY, BLACK]
for y, e, c in zip([UO1A_RED, UO1A_ORANGE, UO1A_YELLOW, UO1A_GREEN, UO1A_BLUE, UO1A_GREY, UO1A_BLACK],
                   [UO1A_ERR, UO1A_ERR_O, UO1A_ERR, UO1A_ERR, UO1A_ERR, UO1A_ERR, UO1A_ERR], cols):
    bars(ax, GRID_B, y, e, c)
title(ax, 'UO1 App. 1', 644, 491)
legend(ax, 655, 536, 662, 684, 564.3, 20.56, UO1A_LABELS, cols)

# --- row 3 ---
tile(566, 840, W, 1300, 3)
ax = panel((607, 846, 1088, 1235), 3.1, (2.6, 5.3), (0, 125), XT_LONG, [0, 20, 40, 60, 80, 100, 120])
cols = [RED, ORANGE, BLUE, BLACK]
for y, c in zip([SD1_RED, SD1_ORANGE, SD1_BLUE, SD1_BLACK], cols):
    bars(ax, GRID, y, SD1_ERR, c)
bars(ax, SD1_RED_MX, SD1_RED_M, SD1_RED_ME, RED)
bars(ax, SD1_ORANGE_MX, SD1_ORANGE_M, SD1_ORANGE_ME, ORANGE)
bars(ax, SD1_BLUE_MX, SD1_BLUE_M, SD1_BLUE_ME, BLUE)
bars(ax, SD1_BLACK_MX, SD1_BLACK_M, SD1_BLACK_ME, BLACK)
title(ax, 'SD220 App. 1', 646, 908)
legend(ax, 661, 1015, 668, 689, 1042.3, 20.9, SD1_LABELS, cols)
xlab(ax, 849, 1284)

tile(0, 840, 578, 1258, 3.5)
ax = panel((73, 846, 572, 1235), 3.6, (2.6, 4.43), (-0.5, 20.55), XT_SHORT, [0, 5, 10, 15, 20])
cols = [RED, ORANGE, YELLOW, GREEN, BLUE, PURPLE, GREY, BLACK]
for y, e, c in zip([UO1B_RED, UO1B_ORANGE, UO1B_YELLOW, UO1B_GREEN, UO1B_BLUE, UO1B_PURPLE, UO1B_GREY, UO1B_BLACK],
                   [UO1B_ERR, UO1B_ERR, UO1B_ERR, UO1B_ERR, UO1B_ERR, UO1B_ERR, UO1B_ERR_K, UO1B_ERR_K], cols):
    bars(ax, GRID, y, e, c)
title(ax, 'UO1 App. 2', 121, 889)
legend(ax, 134, 932, 141, 164, 960, 20.7, UO1B_LABELS, cols)
ylab(ax, 30, 1042)

# --- row 4 ---
tile(0, 1258, 566, H, 4)
ax = panel((78, 1267, 563, 1655), 4.1, (2.565, 5.31), (0, 210), XT_LONG,
           [0, 25, 50, 75, 100, 125, 150, 175, 200])
cols = [RED, ORANGE, BLUE, BLACK]
for y, c in zip([SD2_RED, SD2_ORANGE, SD2_BLUE, SD2_BLACK], cols):
    bars(ax, GRID, y, SD2_ERR, c)
bars(ax, SD2_RED_MX, SD2_RED_M, SD2_RED_ME, RED)
bars(ax, SD2_ORANGE_MX, SD2_ORANGE_M, SD2_ORANGE_ME, ORANGE)
bars(ax, SD2_BLUE_MX, SD2_BLUE_M, SD2_BLUE_ME, BLUE)
bars(ax, SD2_BLACK_MX, SD2_BLACK_M, SD2_BLACK_ME, BLACK)
title(ax, 'SD220 App. 2', 118, 1337)
legend(ax, 134, 1435, 141, 163, 1463.3, 20.7, SD2_LABELS, cols)
ylab(ax, 22, 1462)
xlab(ax, 321, 1705)

fig.savefig('out.png', dpi=100, facecolor='white')
